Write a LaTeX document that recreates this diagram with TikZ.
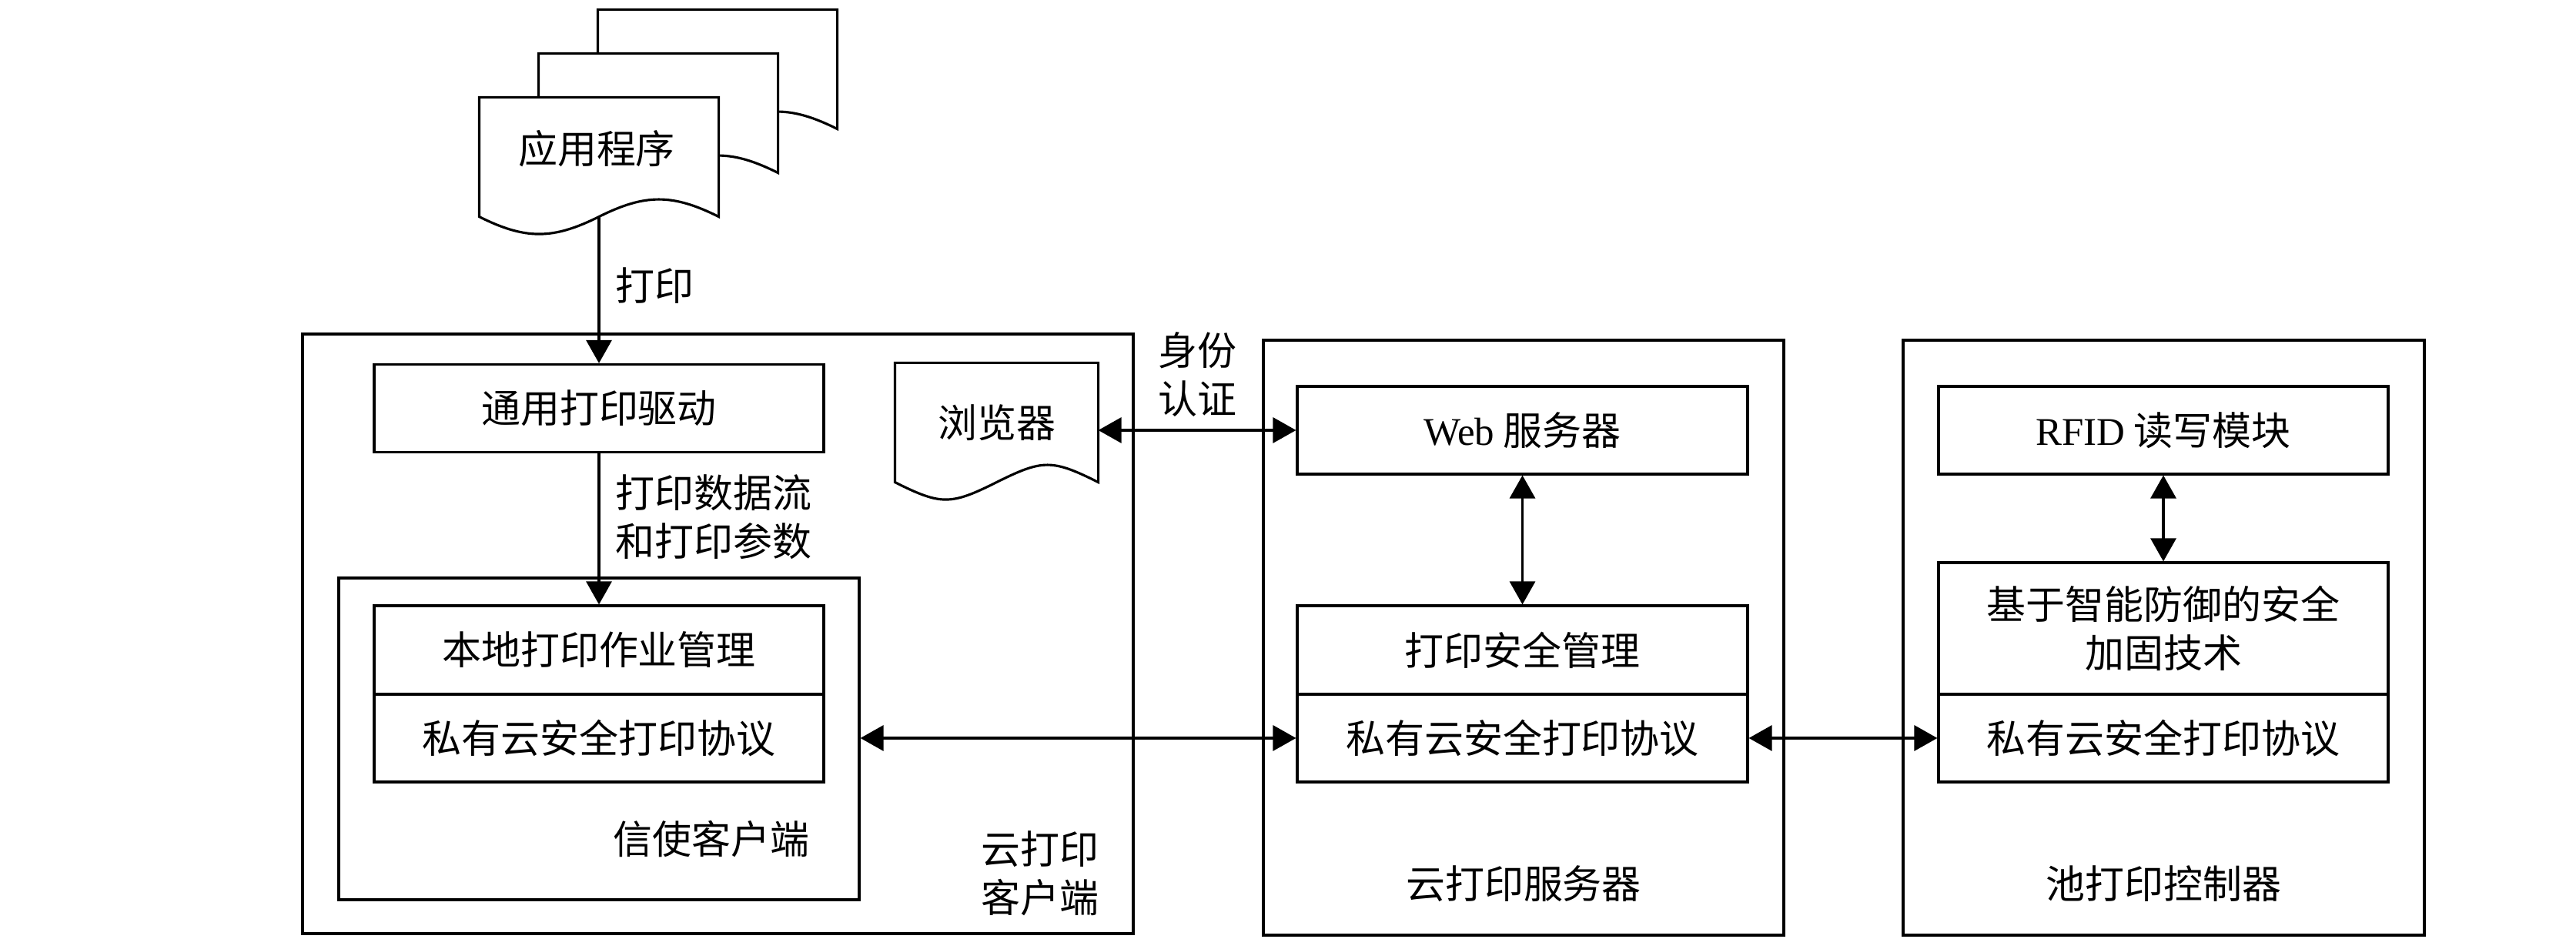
\documentclass[tikz,border=0pt]{standalone}
\usepackage{fontspec}
\setmainfont{Noto Sans CJK SC}
\newfontfamily\latinfont{Liberation Serif}
\usepackage{tikz}
\usetikzlibrary{positioning,arrows.meta,calc}

% outline of a sheet with a wavy lower edge, drawn round a node
\newcommand{\sheetpath}[1]{%
  \draw[fill=white] (#1.north west) -- (#1.north east) -- (#1.south east)
    .. controls +(-0.6,0.3) and +(0.6,0.3) .. (#1.south)
    .. controls +(-0.6,-0.3) and +(0.6,-0.3) .. (#1.south west) -- cycle;}

\begin{document}
\begin{tikzpicture}[
    >={Triangle[length=3mm, width=3.3mm]},
    line width=0.9pt,
    every node/.style={font=\fontsize{14.5pt}{18pt}\selectfont},
    inner box/.style={draw, rectangle, minimum width=5.84cm, minimum height=1.14cm, inner sep=0pt, align=center},
    outer box/.style={draw, rectangle, inner sep=0pt},
    sheet/.style={rectangle, minimum width=3.08cm, minimum height=1.52cm, inner sep=0pt},
    lbl/.style={inner sep=0pt, align=center}
]
    \useasboundingbox (0,0) rectangle (33.46,12.33);

    % application pages
    \foreach \i in {2,1}
      \node[sheet] (page-\i) at (7.78+0.77*\i, 10.29+0.57*\i) {};
    \foreach \i in {2,1}
      \sheetpath{page-\i}
    \node[sheet] (app) at (7.78, 10.29) {};
    \sheetpath{app}
    \node[lbl] (apptext) at (7.75, 10.40) {应用程序};

    % cloud print client
    \node[outer box, minimum width=10.79cm, minimum height=7.79cm] (client) at (9.325, 4.095) {};
    \node[inner box] (driver) at (7.78, 7.025) {通用打印驱动};
    \node[outer box, minimum width=6.76cm, minimum height=4.18cm] (courier) at (7.78, 2.73) {};
    \node[inner box, minimum height=1.15cm] (localjob) at (7.78, 3.885) {本地打印作业管理};
    \node[inner box] (proto-1) at (7.78, 2.74) {私有云安全打印协议};
    \node[sheet, minimum width=2.61cm] (browser) at (12.945, 6.84) {};
    \sheetpath{browser}
    \node[lbl] (browsertext) at (browser) {浏览器};
    \node[lbl] (courierlbl) at ($(courier.south east)+(-1.94,0.81)$) {信使客户端};
    \node[lbl] (clientlbl) at ($(client.south east)+(-1.23,0.80)$) {云打印\\客户端};

    % cloud print server
    \node[outer box, minimum width=6.76cm, minimum height=7.73cm] (server) at (19.79, 4.045) {};
    \node[inner box, minimum width=5.85cm] (web) at (19.775, 6.74) {{\latinfont Web} 服务器};
    \node[inner box, minimum width=5.85cm, minimum height=1.15cm] (secmgmt) at (19.775, 3.885) {打印安全管理};
    \node[inner box, minimum width=5.85cm] (proto-2) at (19.775, 2.74) {私有云安全打印协议};
    \node[lbl] (serverlbl) at ($(server.south)+(0,0.68)$) {云打印服务器};

    % pool print controller
    \node[outer box, minimum width=6.77cm, minimum height=7.73cm] (pool) at (28.105, 4.045) {};
    \node[inner box] (rfid) at (28.10, 6.74) {{\latinfont RFID} 读写模块};
    \node[inner box, minimum height=1.71cm] (defense) at (28.10, 4.165) {基于智能防御的安全\\加固技术};
    \node[inner box] (proto-3) at (28.10, 2.74) {私有云安全打印协议};
    \node[lbl] (poollbl) at ($(pool.south)+(0,0.68)$) {池打印控制器};

    % connections
    \draw[->] (app.south) -- node[lbl, right=2mm, pos=0.47] (printlbl) {打印} (driver.north);
    \draw[->] (driver.south) -- node[lbl, right=2mm, pos=0.42] (streamlbl) {打印数据流\\和打印参数} (localjob.north);
    \draw[<->] (browser.east |- web.west) -- node[lbl, above=1.6mm] (authlbl) {身份\\认证} (web.west);
    \draw[<->] (web.south) -- (secmgmt.north);
    \draw[<->] (rfid.south) -- (defense.north);
    \draw[<->] (courier.east |- proto-2.west) -- (proto-2.west);
    \draw[<->] (proto-2.east) -- (proto-3.west);
\end{tikzpicture}
\end{document}
